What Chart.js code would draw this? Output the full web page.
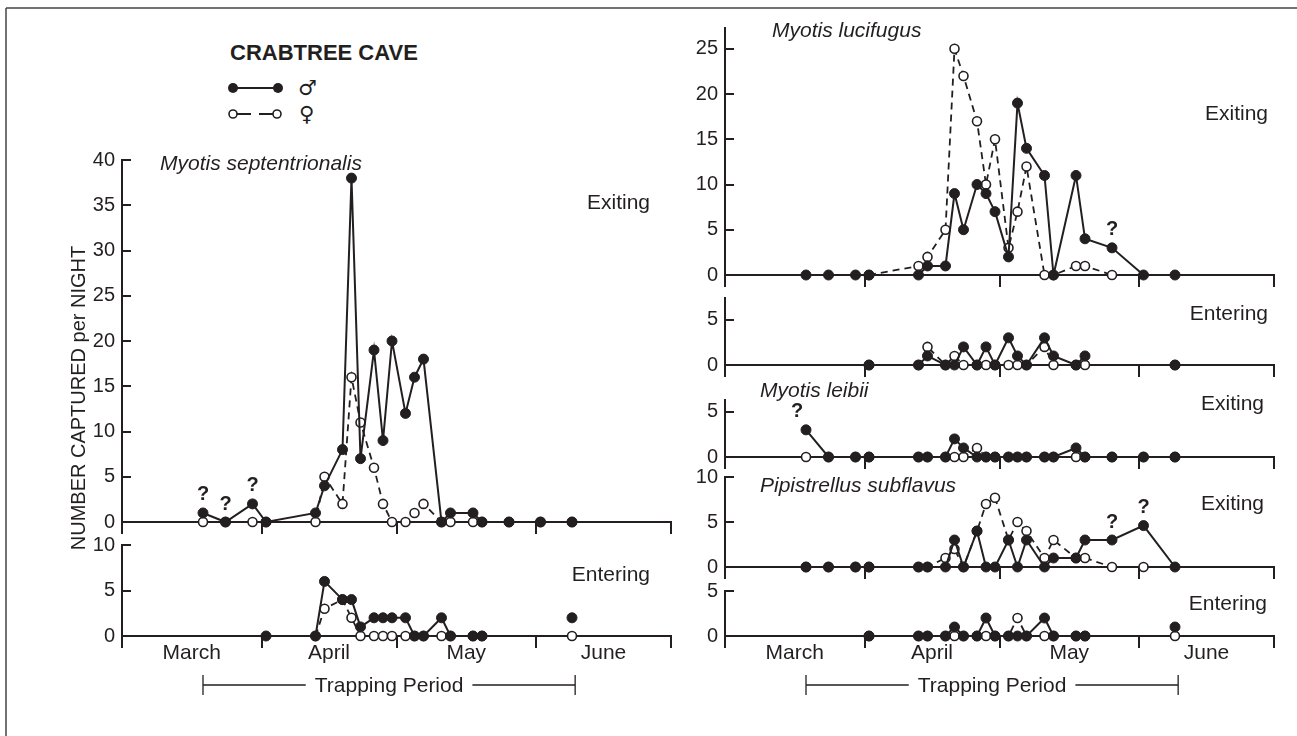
<!DOCTYPE html>
<html>
<head>
<meta charset="utf-8">
<script src="https://cdn.jsdelivr.net/npm/chart.js@4.4.1/dist/chart.umd.min.js"></script>
<style>
  body { margin: 0; background: #fff; }
  #page { position: relative; width: 1297px; height: 736px; overflow: hidden;
          font-family: "Liberation Sans", Arial, Helvetica, sans-serif; color: #231f20; }
  canvas { position: absolute; }
  .t { position: absolute; font-size: 21px; line-height: 21px; white-space: nowrap; }
  .i { font-style: italic; }
</style>
</head>
<body>
<div id="page">
  <svg width="1297" height="736" style="position:absolute;left:0;top:0">
    <line x1="6" y1="8" x2="1297" y2="8" stroke="#444" stroke-width="1.5"/>
    <line x1="6" y1="8" x2="6" y2="736" stroke="#444" stroke-width="1.5"/>
    <!-- legend -->
    <line x1="233" y1="88" x2="278" y2="88" stroke="#231f20" stroke-width="2"/>
    <circle cx="233" cy="88" r="5" fill="#231f20"/>
    <circle cx="278" cy="88" r="5" fill="#231f20"/>
    <line x1="237" y1="114" x2="251" y2="114" stroke="#231f20" stroke-width="2"/>
    <line x1="259" y1="114" x2="273" y2="114" stroke="#231f20" stroke-width="2"/>
    <circle cx="233" cy="114" r="4" fill="#fff" stroke="#231f20" stroke-width="1.6"/>
    <circle cx="277" cy="114" r="4" fill="#fff" stroke="#231f20" stroke-width="1.6"/>
    <text x="298" y="95" font-family="DejaVu Sans" font-size="21" fill="#231f20">♂</text>
    <text x="299" y="121" font-family="DejaVu Sans" font-size="21" fill="#231f20">♀</text>
  </svg>

  <canvas id="septExit"></canvas>
  <canvas id="septEnter"></canvas>
  <canvas id="lucExit"></canvas>
  <canvas id="lucEnter"></canvas>
  <canvas id="leibExit"></canvas>
  <canvas id="pipExit"></canvas>
  <canvas id="pipEnter"></canvas>

  <div class="t" style="left:230px;top:42px;font-weight:bold;font-size:22px;line-height:22px">CRABTREE CAVE</div>
  <div class="t" style="left:-122px;top:388px;width:400px;text-align:center;font-size:20px;line-height:20px;transform:rotate(-90deg)">NUMBER CAPTURED per NIGHT</div>

  <div class="t i" style="left:160px;top:152px">Myotis septentrionalis</div>
  <div class="t" style="right:647px;top:191px">Exiting</div>
  <div class="t" style="right:647px;top:563px">Entering</div>

  <div class="t i" style="left:772px;top:19px">Myotis lucifugus</div>
  <div class="t" style="right:29px;top:102px">Exiting</div>
  <div class="t" style="right:29px;top:302px">Entering</div>
  <div class="t i" style="left:760px;top:379px">Myotis leibii</div>
  <div class="t" style="right:33px;top:392px">Exiting</div>
  <div class="t i" style="left:760px;top:474px">Pipistrellus subflavus</div>
  <div class="t" style="right:33px;top:492px">Exiting</div>
  <div class="t" style="right:30px;top:592px">Entering</div>
</div>

<script>
// trapping nights, in days after 1 March
const nights = [18, 23, 29, 32, 43, 45, 49, 51, 53, 56, 58, 60, 63, 65, 67, 71, 73, 78, 80, 86, 93, 100];
const monthNames = ['March', 'April', 'May', 'June'];
const monthTicks = [0, 31, 61, 92, 122];
const trapPeriod = [18, 100.7];

// Myotis septentrionalis
const septExitMale    = [1, 0, 2, 0, 1, 4, 8, 38, 7, 19, 9, 20, 12, 16, 18, 0, 1, 1, 0, 0, 0, 0];
const septExitFemale  = [0, 0, 0, 0, 0, 5, 2, 16, 11, 6, 2, 0, 0, 1, 2, 0, 0, 0, 0, 0, 0, 0];
const septEnterMale   = [null, null, null, 0, 0, 6, 4, 4, 1, 2, 2, 2, 2, 0, 0, 2, 0, 0, 0, null, null, 2];
const septEnterFemale = [null, null, null, null, 0, 3, 4, 2, 0, 0, 0, 0, 0, 0, 0, 0, 0, 0, 0, null, null, 0];
const septExitQ = [18, 23, 29];

// Myotis lucifugus
const lucExitMale    = [0, 0, 0, 0, 0, 1, 1, 9, 5, 10, 9, 7, 2, 19, 14, 11, 0, 11, 4, 3, 0, 0];
const lucExitFemale  = [null, null, null, 0, 1, 2, 5, 25, 22, 17, 10, 15, 3, 7, 12, 0, 0, 1, 1, 0, null, null];
const lucEnterMale   = [null, null, null, 0, 0, 1, 0, 0, 2, 0, 2, 0, 3, 1, 0, 3, 1, 0, 1, null, null, 0];
const lucEnterFemale = [null, null, null, 0, 0, 2, 0, 1, 0, 0, 0, 0, 0, 0, 0, 2, 0, 0, 0, null, null, 0];
const lucExitQ = [86];

// Myotis leibii
const leibExitMale   = [3, 0, 0, 0, 0, 0, 0, 2, 1, 0, 0, 0, 0, 0, 0, 0, 0, 1, 0, 0, 0, 0];
const leibExitFemale = [0, 0, 0, 0, 0, 0, 0, 0, 0, 1, 0, 0, 0, 0, 0, 0, 0, 0, 0, 0, 0, 0];
const leibExitQ = [18];

// Pipistrellus subflavus
const pipExitMale    = [0, 0, 0, 0, 0, 0, 0, 3, 0, 4, 0, 0, 3, 0, 3, 0, 1, 1, 3, 3, 4.6, 0];
const pipExitFemale  = [0, 0, 0, 0, 0, 0, 1, 2, 0, 4, 7, 7.7, 3, 5, 4, 1, 3, 1, 1, 0, 0, null];
const pipEnterMale   = [null, null, null, 0, 0, 0, 0, 1, 0, 0, 2, 0, 0, 0, 0, 2, 0, 0, 0, null, null, 1];
const pipEnterFemale = [null, null, null, 0, 0, 0, 0, 0, 0, 0, 0, 0, 0, 2, 0, 0, 0, 0, 0, null, null, 0];
const pipExitQ = [86, 93];

const INK = '#231f20';
const FONT = '"Liberation Sans", Arial, Helvetica, sans-serif';
// y axis box width, right padding, plot width, top padding (must exceed label half height + tick padding)
const Y_W = 60, PAD_R = 14, PLOT_W = 549, PAD_T = 32;

Chart.defaults.font.family = FONT;
Chart.defaults.color = INK;

function toXY(values) {
  return nights.map((x, i) => ({ x: x, y: values[i] }));
}

function marks(o) {
  return {
    id: 'marks',
    afterDatasetsDraw(chart) {
      const { ctx, scales: { x, y } } = chart;
      ctx.save();
      ctx.fillStyle = INK;
      ctx.strokeStyle = INK;
      ctx.textAlign = 'center';
      ctx.textBaseline = 'middle';
      ctx.font = 'bold 20px ' + FONT;
      (o.q || []).forEach(n => {
        const v = o.male[nights.indexOf(n)];
        ctx.fillText('?', x.getPixelForValue(n) + (o.qDx || 0), y.getPixelForValue(v) - 18);
      });
      if (o.months) {
        ctx.font = '21px ' + FONT;
        monthNames.forEach((m, i) => {
          const mid = (monthTicks[i] + monthTicks[i + 1]) / 2;
          ctx.fillText(m, x.getPixelForValue(mid), y.bottom + 17);
        });
        const xa = x.getPixelForValue(trapPeriod[0]);
        const xb = x.getPixelForValue(trapPeriod[1]);
        const yb = y.bottom + 49;
        const label = 'Trapping Period';
        const tw = ctx.measureText(label).width;
        const xm = (xa + xb) / 2;
        ctx.lineWidth = 1.3;
        ctx.beginPath();
        ctx.moveTo(xa, yb - 10); ctx.lineTo(xa, yb + 10);
        ctx.moveTo(xb, yb - 10); ctx.lineTo(xb, yb + 10);
        ctx.moveTo(xa, yb); ctx.lineTo(xm - tw / 2 - 9, yb);
        ctx.moveTo(xm + tw / 2 + 9, yb); ctx.lineTo(xb, yb);
        ctx.stroke();
        ctx.fillText(label, xm, yb + 1);
      }
      ctx.restore();
    }
  };
}

function panel(id, o) {
  const xH = o.months ? 72 : 32;
  const cv = document.getElementById(id);
  cv.width = Y_W + PLOT_W + PAD_R;
  cv.height = PAD_T + (o.bottom - o.top) + xH;
  cv.style.left = (o.left - Y_W) + 'px';
  cv.style.top = (o.top - PAD_T) + 'px';

  return new Chart(cv, {
    type: 'line',
    data: {
      datasets: [
        {
          data: toXY(o.male),
          borderColor: INK,
          borderWidth: 2,
          pointRadius: 5,
          pointBackgroundColor: INK,
          pointBorderColor: INK,
          pointBorderWidth: 1,
          clip: false
        },
        {
          data: toXY(o.female),
          borderColor: INK,
          borderWidth: 1.8,
          borderDash: [7, 5],
          pointRadius: 4.5,
          pointBackgroundColor: '#fff',
          pointBorderColor: INK,
          pointBorderWidth: 1.6,
          clip: false
        }
      ]
    },
    options: {
      responsive: false,
      animation: false,
      devicePixelRatio: 1,
      layout: { padding: { top: PAD_T, right: PAD_R, left: 0, bottom: 0 } },
      plugins: { legend: { display: false }, tooltip: { enabled: false } },
      scales: {
        x: {
          type: 'linear',
          min: monthTicks[0],
          max: monthTicks[monthTicks.length - 1],
          afterBuildTicks: s => { s.ticks = monthTicks.map(v => ({ value: v })); },
          afterFit: s => { s.height = xH; },
          grid: { drawOnChartArea: false, drawTicks: true, tickLength: 12, color: INK, lineWidth: 2 },
          border: { display: true, color: INK, width: 2 },
          ticks: { display: false }
        },
        y: {
          min: 0,
          max: o.yMax,
          afterBuildTicks: s => { s.ticks = o.yTicks.map(v => ({ value: v })); },
          afterFit: s => { s.width = Y_W; },
          grid: { drawOnChartArea: false, drawTicks: true, tickLength: -9, color: INK, lineWidth: 2 },
          border: { display: true, color: INK, width: 2 },
          ticks: { padding: 16, color: INK, font: { size: 20, family: FONT } }
        }
      }
    },
    plugins: [marks(o)]
  });
}

panel('septExit', { left: 122, top: 160, bottom: 522, yMax: 40,
  yTicks: [0, 5, 10, 15, 20, 25, 30, 35, 40], male: septExitMale, female: septExitFemale, q: septExitQ });
panel('septEnter', { left: 122, top: 545, bottom: 636, yMax: 10,
  yTicks: [0, 5, 10], male: septEnterMale, female: septEnterFemale, months: true });

panel('lucExit', { left: 725, top: 28, bottom: 275, yMax: 27.3,
  yTicks: [0, 5, 10, 15, 20, 25], male: lucExitMale, female: lucExitFemale, q: lucExitQ });
panel('lucEnter', { left: 725, top: 298, bottom: 365, yMax: 7.4,
  yTicks: [0, 5], male: lucEnterMale, female: lucEnterFemale });
panel('leibExit', { left: 725, top: 400, bottom: 457, yMax: 6.3,
  yTicks: [0, 5], male: leibExitMale, female: leibExitFemale, q: leibExitQ, qDx: -9 });
panel('pipExit', { left: 725, top: 477, bottom: 567, yMax: 10,
  yTicks: [0, 5, 10], male: pipExitMale, female: pipExitFemale, q: pipExitQ });
panel('pipEnter', { left: 725, top: 591, bottom: 636, yMax: 5,
  yTicks: [0, 5], male: pipEnterMale, female: pipEnterFemale, months: true });
</script>
</body>
</html>
